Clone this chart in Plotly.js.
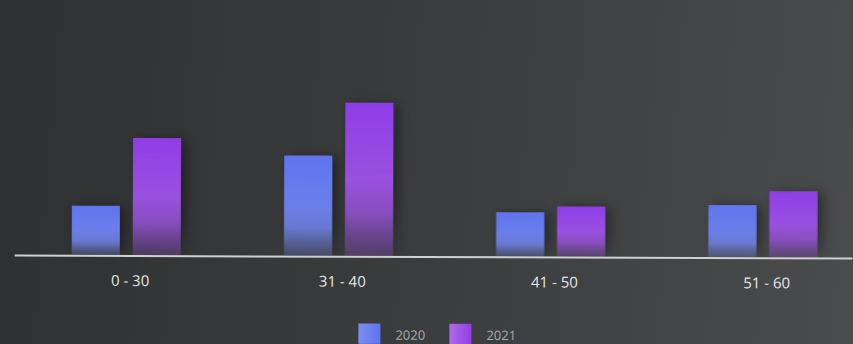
<!DOCTYPE html>
<html>
<head>
<meta charset="utf-8">
<script src="https://cdn.plot.ly/plotly-3.0.1.min.js"></script>
<style>
  html, body { margin: 0; padding: 0; width: 853px; height: 344px; overflow: hidden;
    background: linear-gradient(95deg, #2f3032 0%, #3c3d3f 55%, #4a4b4d 100%); }
  #chart { width: 853px; height: 344px; transform: rotate(0.205deg); transform-origin: 426px 172px; }
  #chart path { shape-rendering: geometricPrecision !important; }
</style>
</head>
<body>
<svg width="0" height="0" style="position:absolute">
  <defs>
    <linearGradient id="bar2020" x1="0" y1="0" x2="0" y2="1">
      <stop offset="0%" stop-color="#5f75f0" stop-opacity="1"/>
      <stop offset="50%" stop-color="#6a7ee9" stop-opacity="1"/>
      <stop offset="72%" stop-color="#6e80e0" stop-opacity="0.9"/>
      <stop offset="100%" stop-color="#6a78c0" stop-opacity="0.3"/>
    </linearGradient>
    <linearGradient id="bar2021" x1="0" y1="0" x2="0" y2="1">
      <stop offset="0%" stop-color="#8f3de8" stop-opacity="1"/>
      <stop offset="50%" stop-color="#9a50df" stop-opacity="1"/>
      <stop offset="72%" stop-color="#9452d2" stop-opacity="0.85"/>
      <stop offset="100%" stop-color="#8a50c0" stop-opacity="0.28"/>
    </linearGradient>
    <linearGradient id="leg2020" x1="0" y1="0" x2="1" y2="0">
      <stop offset="0%" stop-color="#7d8ef2"/>
      <stop offset="100%" stop-color="#5d72ef"/>
    </linearGradient>
    <linearGradient id="leg2021" x1="0" y1="0" x2="1" y2="0">
      <stop offset="0%" stop-color="#b06ae9"/>
      <stop offset="100%" stop-color="#8f3ee6"/>
    </linearGradient>
    <filter id="barShadow" x="-50%" y="-20%" width="200%" height="140%">
      <feDropShadow dx="5" dy="1" stdDeviation="6" flood-color="#000" flood-opacity="0.4"/>
    </filter>
    <filter id="lineShadow" x="-5%" y="-300%" width="110%" height="700%">
      <feDropShadow dx="0" dy="2" stdDeviation="1" flood-color="#000" flood-opacity="0.5"/>
    </filter>
  </defs>
</svg>
<div id="chart"></div>
<script>
// Data
var categories = ['0 - 30', '31 - 40', '41 - 50', '51 - 60'];
var seriesNames = ['2020', '2021'];
var values2020 = [49, 100, 44, 52];
var values2021 = [117, 153, 50, 66];

var traces = [
  { type: 'bar', name: seriesNames[0], x: categories, y: values2020,
    marker: { color: '#6478ee', line: { width: 0 } } },
  { type: 'bar', name: seriesNames[1], x: categories, y: values2021,
    marker: { color: '#9444e6', line: { width: 0 } } }
];

var layout = {
  width: 853, height: 344,
  margin: { l: 15, r: 0, t: 20, b: 88, autoexpand: false },
  paper_bgcolor: 'rgba(0,0,0,0)',
  plot_bgcolor: 'rgba(0,0,0,0)',
  barmode: 'group',
  bargap: 0.4256,
  bargroupgap: 0.213,
  showlegend: true,
  legend: {
    orientation: 'h', x: 0.5155, xanchor: 'center', y: -0.27, yanchor: 'top',
    font: { family: 'Open Sans', size: 13, color: '#a9a9a9' },
    entrywidth: 46, entrywidthmode: 'pixels',
    bgcolor: 'rgba(0,0,0,0)'
  },
  xaxis: {
    type: 'category',
    range: [-0.5254, 3.4237],
    showline: true, linecolor: '#d0d0d0', linewidth: 2,
    showgrid: false, zeroline: false, ticks: '',
    tickfont: { family: 'Open Sans', size: 15, color: '#e6e6e6' },
    ticklabelshift: 4,
    ticklabelstandoff: 11
  },
  yaxis: {
    visible: false, range: [0, 236], showgrid: false, zeroline: false
  },
  hovermode: false
};

Plotly.newPlot('chart', traces, layout, { staticPlot: true, displayModeBar: false }).then(function (gd) {
  var ids = ['bar2020', 'bar2021'];
  var legIds = ['leg2020', 'leg2021'];
  var traceGroups = gd.querySelectorAll('.barlayer .trace');
  traceGroups.forEach(function (g, i) {
    g.setAttribute('filter', 'url(#barShadow)');
    g.querySelectorAll('path').forEach(function (p) {
      p.style.fill = 'url(#' + ids[i] + ')';
    });
  });
  var legItems = gd.querySelectorAll('.legend .traces');
  legItems.forEach(function (item, i) {
    var p = item.querySelector('.legendpoints path');
    if (p) {
      p.setAttribute('d', 'M5,11H-17V-11H5Z');
      p.style.fill = 'url(#' + legIds[i] + ')';
      p.style.stroke = 'none';
    }
  });
  gd.querySelectorAll('path.xline, .xlines-above path, .xlines-below path').forEach(function (p) {
    p.setAttribute('filter', 'url(#lineShadow)');
  });
});
</script>
</body>
</html>
